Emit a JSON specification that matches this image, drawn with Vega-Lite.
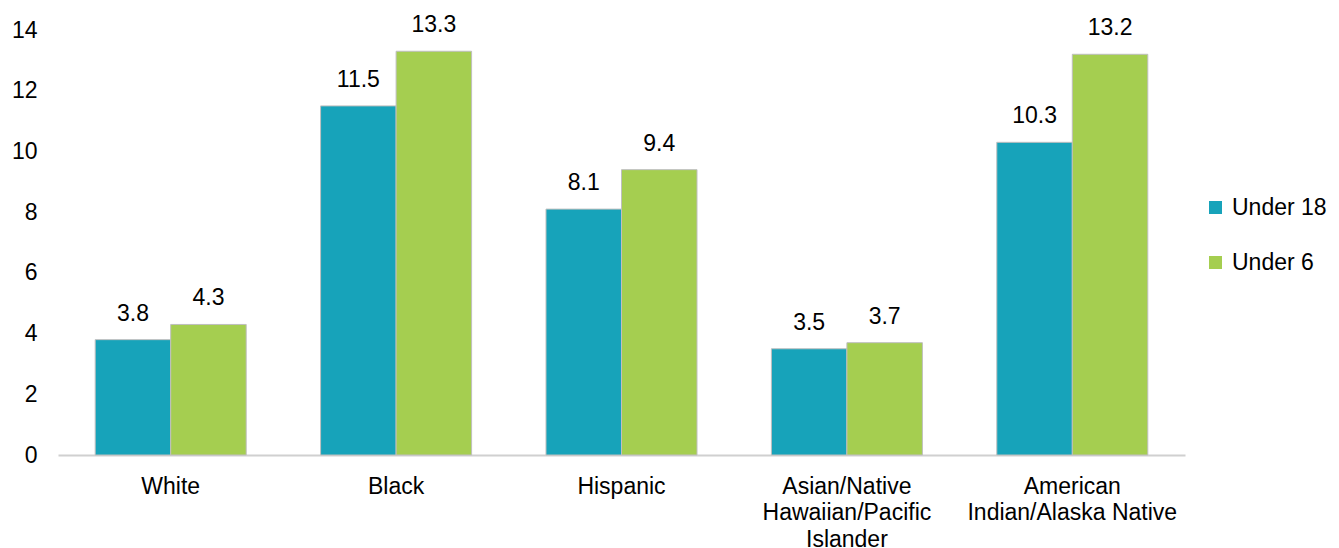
{
  "$schema": "https://vega.github.io/schema/vega-lite/v6.json",
  "width": 1127,
  "height": 425,
  "autosize": {"type": "none"},
  "padding": {"left": 58, "top": 30, "right": 154, "bottom": 93},
  "background": "white",
  "config": {
    "view": {"stroke": null},
    "font": "Liberation Sans",
    "axis": {"labelFont": "Liberation Sans", "labelFontSize": 23, "labelColor": "#000000", "grid": false}
  },
  "data": {
    "values": [
      {"group": "White", "age": "Under 18", "value": 3.8},
      {"group": "White", "age": "Under 6", "value": 4.3},
      {"group": "Black", "age": "Under 18", "value": 11.5},
      {"group": "Black", "age": "Under 6", "value": 13.3},
      {"group": "Hispanic", "age": "Under 18", "value": 8.1},
      {"group": "Hispanic", "age": "Under 6", "value": 9.4},
      {"group": "Asian/Native|Hawaiian/Pacific|Islander", "age": "Under 18", "value": 3.5},
      {"group": "Asian/Native|Hawaiian/Pacific|Islander", "age": "Under 6", "value": 3.7},
      {"group": "American|Indian/Alaska Native", "age": "Under 18", "value": 10.3},
      {"group": "American|Indian/Alaska Native", "age": "Under 6", "value": 13.2}
    ]
  },
  "encoding": {
    "x": {
      "field": "group",
      "type": "nominal",
      "sort": null,
      "scale": {"paddingInner": 0.33, "paddingOuter": 0.165},
      "axis": {
        "title": null,
        "labelAngle": 0,
        "labelExpr": "split(datum.label, '|')",
        "labelLineHeight": 26.5,
        "labelPadding": 20,
        "labelLimit": 400,
        "ticks": false,
        "domainColor": "#d0d0d0",
        "domainWidth": 2,
        "labelBaseline": "top"
      }
    },
    "xOffset": {"field": "age", "type": "nominal", "sort": ["Under 18", "Under 6"]},
    "y": {
      "field": "value",
      "type": "quantitative",
      "scale": {"domain": [0, 14], "nice": false},
      "axis": {
        "title": null,
        "values": [0, 2, 4, 6, 8, 10, 12, 14],
        "domain": false,
        "ticks": false,
        "labelPadding": 21
      }
    }
  },
  "layer": [
    {
      "mark": {"type": "bar", "stroke": "#bfbfbf", "strokeWidth": 1},
      "encoding": {
        "color": {
          "field": "age",
          "type": "nominal",
          "sort": ["Under 18", "Under 6"],
          "scale": {"domain": ["Under 18", "Under 6"], "range": ["#17A3BA", "#A5CE50"]},
          "legend": {
            "title": null,
            "orient": "none",
            "legendX": 1146,
            "legendY": 166,
            "symbolType": "square",
            "symbolSize": 169,
            "symbolStrokeWidth": 0,
            "labelFontSize": 23,
            "labelFont": "Liberation Sans",
            "labelColor": "#000000",
            "labelOffset": 5,
            "rowPadding": 31
          }
        }
      }
    },
    {
      "mark": {"type": "text", "baseline": "alphabetic", "dy": -19, "fontSize": 23, "font": "Liberation Sans", "color": "#000000"},
      "encoding": {
        "text": {"field": "value", "type": "quantitative", "format": ".1f"}
      }
    }
  ]
}
